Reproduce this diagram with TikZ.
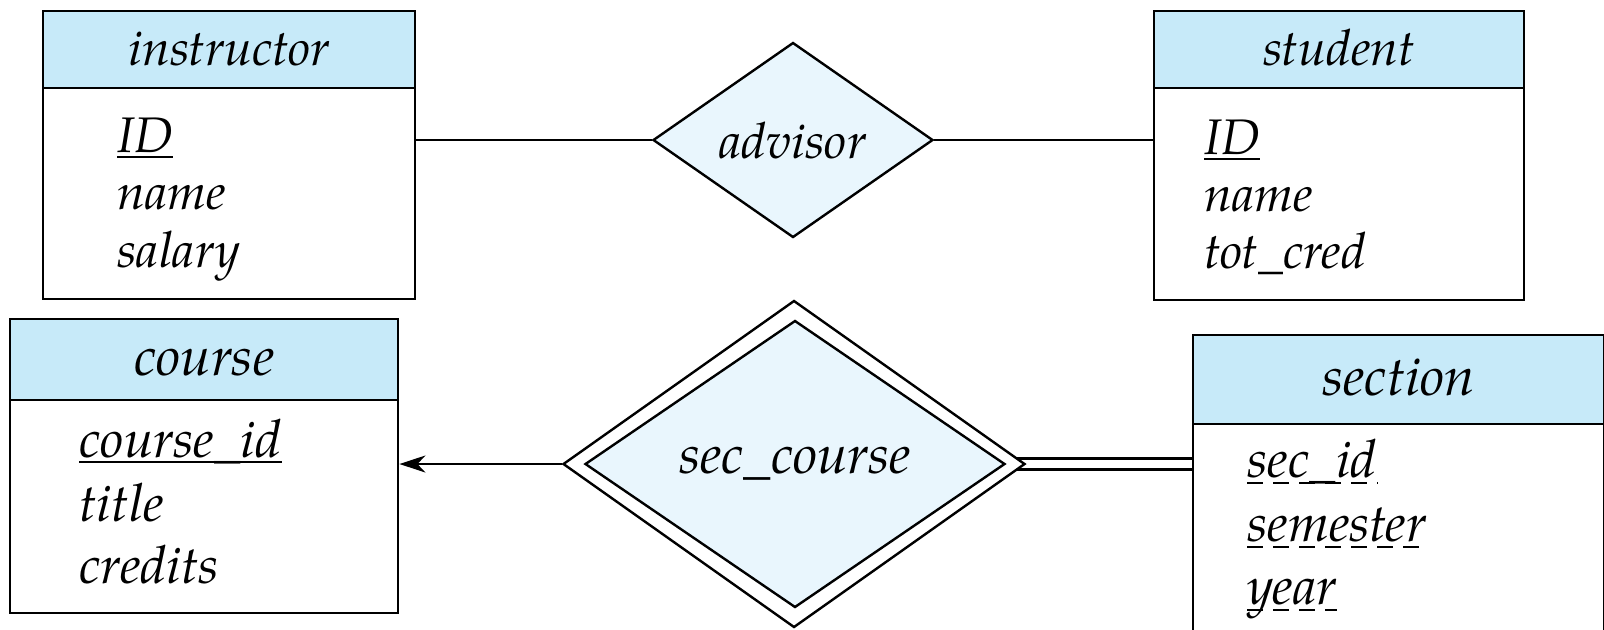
\documentclass[tikz,border=0pt]{standalone}
\usepackage{fontspec}
\setmainfont{TeX Gyre Pagella}
\usetikzlibrary{shapes.geometric,arrows.meta}
\definecolor{hdr}{RGB}{199,234,249}
\definecolor{rel}{RGB}{233,246,253}
\pgfdeclarelayer{background}
\pgfsetlayers{background,main}
\begin{document}
\begin{tikzpicture}[x=0.5pt,y=-0.5pt,
  font=\fontsize{25}{30}\selectfont\itshape,
  big/.style={font=\fontsize{26.3}{30}\selectfont\itshape},
  bigger/.style={font=\fontsize{27.3}{30}\selectfont\itshape},
  ent/.style={draw, line width=1.2pt, inner sep=0pt, anchor=north west},
  hdrbox/.style={ent, fill=hdr, text height=16pt, text depth=0pt},
  attr/.style={anchor=base west, inner sep=0pt},
  reln/.style={diamond, draw, line width=1.2pt, inner sep=0pt, fill=rel},
  conn/.style={line width=1.1pt},
  uline/.style={line width=0.7pt},
  dline/.style={line width=0.8pt, dash pattern=on 8pt off 5pt}]
\useasboundingbox (0,0) rectangle (1604,629);
% instructor
\node[hdrbox, minimum width=186pt, minimum height=38.5pt] (instr-h) at (42,10) {instructor};
\node[ent, minimum width=186pt, minimum height=105.5pt] (instr-b) at (42,87) {};
\node[attr] (i-id) at (117,152) {ID};
\node[attr] (i-name) at (117,209) {name};
\node[attr] (i-sal) at (117,267) {salary};
\draw[uline] ([yshift=-2.5pt]i-id.base west) -- ([yshift=-2.5pt]i-id.base east);
% student
\node[hdrbox, minimum width=185pt, minimum height=38.5pt] (stud-h) at (1153,10) {student};
\node[ent, minimum width=185pt, minimum height=106pt] (stud-b) at (1153,87) {};
\node[attr] (s-id) at (1204,154) {ID};
\node[attr] (s-name) at (1204,211) {name};
\node[attr] (s-tot) at (1204,268) {tot\_cred};
\draw[uline] ([yshift=-2.5pt]s-id.base west) -- ([yshift=-2.5pt]s-id.base east);
% course
\node[hdrbox, bigger, minimum width=194pt, minimum height=40.5pt] (course-h) at (9,318) {course};
\node[ent, minimum width=194pt, minimum height=106.5pt] (course-b) at (9,399) {};
\node[attr, big] (c-id) at (79,457) {course\_id};
\node[attr, big] (c-title) at (79,521) {title};
\node[attr, big] (c-cred) at (79,583) {credits};
\draw[uline] ([yshift=-2.5pt]c-id.base west) -- ([yshift=-2.5pt]c-id.base east);
% section
\node[hdrbox, bigger, minimum width=205.5pt, minimum height=44.5pt] (sec-h) at (1192,334) {section};
\node[ent, minimum width=205.5pt, minimum height=150pt] (sec-b) at (1192,423) {};
\node[attr, big] (x-id) at (1247,477) {sec\_id};
\node[attr, big] (x-sem) at (1247,541) {semester};
\node[attr, big] (x-year) at (1247,604) {year};
\draw[dline] ([yshift=-3pt]x-id.base west) -- ([yshift=-3pt]x-id.base east);
\draw[dline] ([yshift=-3pt]x-sem.base west) -- ([yshift=-3pt]x-sem.base east);
\draw[dline] ([yshift=-3pt]x-year.base west) -- ([yshift=-3pt]x-year.base east);
% relationships
\node[reln, minimum width=140pt, minimum height=97.5pt] (advisor) at (793,140) {advisor};
\node[reln, fill=white, minimum width=231pt, minimum height=163.5pt] (sc-o) at (794,464) {};
\node[reln, bigger, minimum width=210pt, minimum height=143.5pt] (sc) at (795,464) {sec\_course};
% connectors
\draw[conn] (advisor.west -| instr-b.east) -- (advisor.west);
\draw[conn] (advisor.east) -- (advisor.east -| stud-b.west);
\draw[conn, -{Stealth[length=13pt,width=8.5pt,inset=4pt]}] (sc-o.west) -- (sc-o.west -| course-b.east);
\begin{pgfonlayer}{background}
\draw[line width=1.2pt, double, double distance=4.2pt] (sc.east) -- (sc.east -| sec-b.west);
\end{pgfonlayer}
\end{tikzpicture}
\end{document}
